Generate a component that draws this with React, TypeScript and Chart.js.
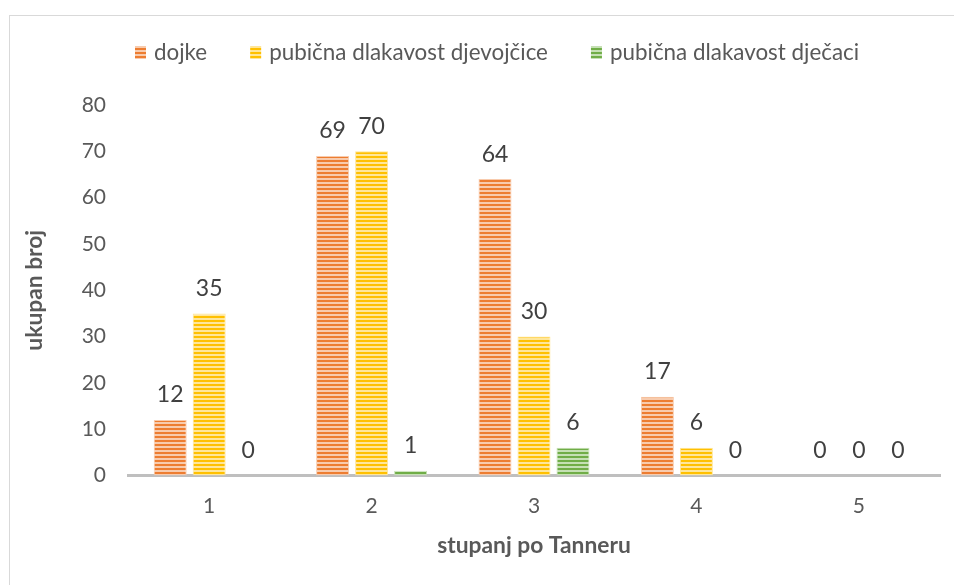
import React, { useEffect, useRef } from "react";
import { Chart, registerables } from "chart.js";
Chart.register(...registerables);

const categories = ["1", "2", "3", "4", "5"];
const seriesNames = ["dojke", "pubična dlakavost djevojčice", "pubična dlakavost dječaci"];
const dojke = [12, 69, 64, 17, 0];
const djevojcice = [35, 70, 30, 6, 0];
const djecaci = [0, 1, 6, 0, 0];
const yMin = 0;
const yMax = 80;
const yStep = 10;
const xTitle = "stupanj po Tanneru";
const yTitle = "ukupan broj";

const darkColors = ["#ED7D31", "#FFC000", "#70AD47"];
const lightColors = ["#F8CBAD", "#FFE699", "#C5E0B4"];
const FONT = "Lato, 'Open Sans', sans-serif";

function makePattern(dark: string, light: string) {
  const c = document.createElement("canvas");
  c.width = 4;
  c.height = 4;
  const x = c.getContext("2d")!;
  x.fillStyle = light;
  x.fillRect(0, 0, 4, 4);
  x.fillStyle = dark;
  x.fillRect(0, 0, 4, 2);
  return x.createPattern(c, "repeat")!;
}

export default function App() {
  const ref = useRef<HTMLCanvasElement>(null);
  useEffect(() => {
    const canvas = ref.current!;
    const patterns = darkColors.map((d, i) => makePattern(d, lightColors[i]));
    const values = [dojke, djevojcice, djecaci];

    const borderPlugin = {
      id: "frame",
      beforeDraw(chart: any) {
        const ctx = chart.ctx;
        ctx.save();
        ctx.fillStyle = "#ffffff";
        ctx.fillRect(0, 0, chart.width, chart.height);
        ctx.strokeStyle = "#D9D9D9";
        ctx.lineWidth = 1;
        ctx.strokeRect(9.5, 15.5, 1200, 1200);
        ctx.restore();
      },
    };

    const legendPlugin = {
      id: "customLegend",
      afterDraw(chart: any) {
        const ctx = chart.ctx;
        ctx.save();
        ctx.font = `22.4px ${FONT}`;
        ctx.textBaseline = "middle";
        ctx.textAlign = "left";
        let x = 135;
        const cy = 53;
        seriesNames.forEach((name, i) => {
          ctx.fillStyle = patterns[i];
          ctx.fillRect(x, cy - 7, 11, 13);
          ctx.fillStyle = "#595959";
          const tx = x + 11 + 8;
          ctx.fillText(name, tx, cy);
          x = tx + ctx.measureText(name).width + 43;
        });
        ctx.restore();
      },
    };

    const labelPlugin = {
      id: "valueLabels",
      afterDatasetsDraw(chart: any) {
        const ctx = chart.ctx;
        ctx.save();
        ctx.font = `23px ${FONT}`;
        ctx.fillStyle = "#404040";
        ctx.textAlign = "center";
        ctx.textBaseline = "middle";
        chart.data.datasets.forEach((ds: any, di: number) => {
          const meta = chart.getDatasetMeta(di);
          meta.data.forEach((el: any, i: number) => {
            ctx.fillText(String(ds.data[i]), el.x, el.y - 25);
          });
        });
        ctx.restore();
      },
    };

    const chart = new Chart(canvas, {
      type: "bar",
      data: {
        labels: categories,
        datasets: seriesNames.map((name, i) => ({
          label: name,
          data: values[i],
          backgroundColor: patterns[i],
          borderColor: lightColors[i],
          borderWidth: 1,
          categoryPercentage: 0.7204,
          barPercentage: 0.846,
        })),
      },
      options: {
        responsive: false,
        animation: false,
        layout: { padding: { left: 21, right: 14, top: 105, bottom: 25.5 } },
        plugins: {
          legend: { display: false },
          tooltip: { enabled: false },
        },
        scales: {
          x: {
            grid: { display: false, drawTicks: false },
            border: { display: true, color: "#BFBFBF", width: 3 },
            ticks: { color: "#595959", font: { family: FONT, size: 21 }, padding: 18 },
            title: {
              display: true,
              text: xTitle,
              color: "#595959",
              font: { family: FONT, size: 22.8, weight: "bold" },
              padding: 0,
            },
            afterFit(scale: any) {
              scale.height = 84;
            },
          },
          y: {
            min: yMin,
            max: yMax,
            grid: { display: false, drawTicks: false },
            border: { display: false },
            ticks: { stepSize: yStep, color: "#595959", font: { family: FONT, size: 21 }, padding: 22 },
            title: {
              display: true,
              text: yTitle,
              color: "#595959",
              font: { family: FONT, size: 22.8, weight: "bold" },
              padding: 0,
            },
            afterFit(scale: any) {
              scale.width = 107;
            },
          },
        },
      },
      plugins: [borderPlugin, legendPlugin, labelPlugin],
    });
    return () => chart.destroy();
  }, []);
  return (
    <canvas
      ref={ref}
      width={954}
      height={585}
      style={{ position: "fixed", left: 0, top: 0, width: 954, height: 585 }}
    />
  );
}
